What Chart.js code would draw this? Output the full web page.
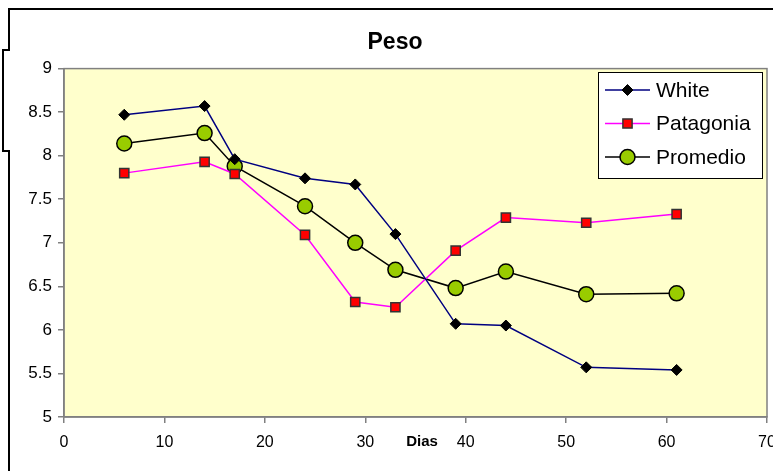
<!DOCTYPE html>
<html>
<head>
<meta charset="utf-8">
<script src="https://cdn.jsdelivr.net/npm/chart.js@4"></script>
<style>
  html, body { margin: 0; padding: 0; background: #fff; overflow: hidden; width: 773px; height: 471px; }
  #wrap { position: absolute; left: 0; top: 0; width: 790px; height: 471px; }
  .frame { position: absolute; left: 8px; top: 8px; width: 900px; height: 600px; border: 2px solid #000; box-sizing: border-box; }
  .bracket { position: absolute; left: 2px; top: 49px; width: 8px; height: 103px; border: 2px solid #000; border-right: none; box-sizing: border-box; background: #fff; }
</style>
</head>
<body>
<div class="frame"></div>
<div class="bracket"></div>
<div id="wrap"><canvas id="chart" width="790" height="471"></canvas></div>
<script>
// Dias (x) de cada medición
const dias = [6, 14, 17, 24, 29, 33, 39, 44, 52, 61];
// Peso por serie
const white = [8.47, 8.57, 7.96, 7.74, 7.67, 7.10, 6.07, 6.05, 5.57, 5.54];
const patagonia = [7.80, 7.93, 7.79, 7.09, 6.32, 6.26, 6.91, 7.29, 7.23, 7.33];
const promedio = [8.14, 8.26, 7.88, 7.42, 7.00, 6.69, 6.48, 6.67, 6.41, 6.42];

const xTicks = [0, 10, 20, 30, 40, 50, 60, 70];
const yTicks = [5, 5.5, 6, 6.5, 7, 7.5, 8, 8.5, 9];

const FONT = '"Liberation Sans", Arial, sans-serif';

function pts(ys) {
    return dias.map((d, i) => ({ x: d, y: ys[i] }));
}

// fondo amarillo + borde gris del área de trazado
const plotBg = {
    id: 'plotBg',
    beforeDraw(chart) {
        const a = chart.chartArea, ctx = chart.ctx;
        ctx.save();
        ctx.fillStyle = '#FFFFCC';
        ctx.fillRect(a.left, a.top, a.right - a.left, a.bottom - a.top);
        ctx.restore();
    },
    afterDatasetsDraw(chart) {
        const a = chart.chartArea, ctx = chart.ctx;
        ctx.save();
        ctx.strokeStyle = '#808080';
        ctx.lineWidth = 1.5;
        ctx.strokeRect(a.left, a.top, a.right - a.left, a.bottom - a.top);
        ctx.restore();
    }
};

// leyenda con recuadro (como en Excel) y rótulo "Dias"
const extras = {
    id: 'extras',
    afterDraw(chart) {
        const ctx = chart.ctx;
        ctx.save();
        // Dias
        ctx.font = 'bold 15px ' + FONT;
        ctx.fillStyle = '#000';
        ctx.textAlign = 'center';
        ctx.textBaseline = 'middle';
        ctx.fillText('Dias', 422, 442);

        // leyenda
        const lx = 598, ly = 72, lw = 164, lh = 106;
        ctx.fillStyle = '#fff';
        ctx.fillRect(lx, ly, lw, lh);
        ctx.strokeStyle = '#000';
        ctx.lineWidth = 1;
        ctx.strokeRect(lx + 0.5, ly + 0.5, lw, lh);
        ctx.font = '21px ' + FONT;
        ctx.textAlign = 'left';
        chart.data.datasets.forEach((ds, i) => {
            const y = 90 + i * 33.5;
            ctx.strokeStyle = ds.borderColor;
            ctx.lineWidth = 1.5;
            ctx.beginPath();
            ctx.moveTo(605, y);
            ctx.lineTo(650, y);
            ctx.stroke();
            ctx.fillStyle = ds.pointBackgroundColor;
            ctx.strokeStyle = ds.pointBorderColor;
            ctx.lineWidth = ds.pointBorderWidth;
            Chart.helpers.drawPoint(ctx, { pointStyle: ds.pointStyle, radius: ds.pointRadius, borderWidth: ds.pointBorderWidth, rotation: 0 }, 627.5, y);
            ctx.fillStyle = '#000';
            ctx.fillText(ds.label, 656, y + 1);
        });
        ctx.restore();
    }
};

new Chart(document.getElementById('chart'), {
    type: 'line',
    data: {
        datasets: [
            {
                label: 'White', data: pts(white),
                borderColor: '#000080', borderWidth: 1.5,
                pointStyle: 'rectRot', pointRadius: 5.5,
                pointBackgroundColor: '#000', pointBorderColor: '#000', pointBorderWidth: 1
            },
            {
                label: 'Patagonia', data: pts(patagonia),
                borderColor: '#FF00FF', borderWidth: 1.5,
                pointStyle: 'rect', pointRadius: 6.5,
                pointBackgroundColor: '#FF0000', pointBorderColor: '#333', pointBorderWidth: 1.5
            },
            {
                label: 'Promedio', data: pts(promedio),
                borderColor: '#000', borderWidth: 1.5,
                pointStyle: 'circle', pointRadius: 7.5,
                pointBackgroundColor: '#99CC00', pointBorderColor: '#000', pointBorderWidth: 1.5
            }
        ]
    },
    options: {
        responsive: false,
        animation: false,
        devicePixelRatio: 1,
        layout: { padding: { left: 23, right: 23, top: 29, bottom: 14 } },
        plugins: {
            legend: { display: false },
            tooltip: { enabled: false },
            title: {
                display: true, text: 'Peso', color: '#000',
                font: { family: FONT, size: 23, weight: 'bold', lineHeight: 1.2 },
                padding: { top: 0, bottom: 12 }
            }
        },
        scales: {
            x: {
                type: 'linear', min: 0, max: 70,
                afterBuildTicks: s => { s.ticks = xTicks.map(v => ({ value: v })); },
                afterFit: s => { s.height = 40; },
                grid: { drawOnChartArea: false, drawTicks: true, tickLength: 6, color: '#808080', lineWidth: 1.5 },
                border: { display: true, color: '#808080', width: 1.5 },
                ticks: { color: '#000', padding: 10, maxRotation: 0, callback: v => String(v), font: { family: FONT, size: 16 } }
            },
            y: {
                type: 'linear', min: 5, max: 9,
                afterBuildTicks: s => { s.ticks = yTicks.map(v => ({ value: v })); },
                afterFit: s => { s.width = 41; },
                grid: { drawOnChartArea: false, drawTicks: true, tickLength: 6, color: '#808080', lineWidth: 1.5 },
                border: { display: true, color: '#808080', width: 1.5 },
                ticks: { color: '#000', padding: 6, callback: v => String(v), font: { family: FONT, size: 17 } }
            }
        }
    },
    plugins: [plotBg, extras]
});
</script>
</body>
</html>
